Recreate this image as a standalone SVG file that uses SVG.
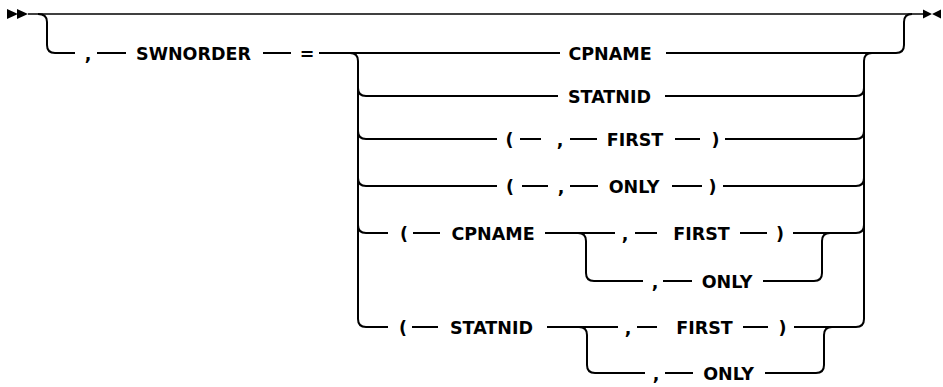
<svg xmlns="http://www.w3.org/2000/svg" width="943" height="387" viewBox="0 0 943 387">
<style>
.bg{fill:#fff}
.ln{fill:none;stroke:#000;stroke-width:2;stroke-linecap:butt}
.main{fill:none;stroke:#000;stroke-width:1.5}
.mk{fill:#000}
text{font-family:"DejaVu Sans","Liberation Sans",sans-serif;font-weight:bold;font-size:17.5px;fill:#000;text-anchor:middle}
</style>
<rect class="bg" width="943" height="387"/>
<g id="connectors">
<path class="main" d="M28,14 H923"/>
<path class="mk" d="M7,9 L18,14 L7,19 Z M17,9 L28,14 L17,19 Z"/>
<path class="mk" d="M923,9.5 L932,14 L923,18.5 Z M941,9.5 L932,14 L941,18.5 Z"/>
<path class="ln" d="M38,14 Q47,14 47,22 V45 Q47,53 55,53 H75 M97,53 H126 M263,53 H291 M319,53 H560 M666,53 H896 Q904,53 904,45 V22 Q904,14 912,14"/>
<path class="ln" d="M350,53 Q358,53 358,61 V319 Q358,327 366,327"/>
<path class="ln" d="M358,88 Q358,96 366,96 M358,131 Q358,139 366,139 M358,178 Q358,186 366,186 M358,225 Q358,233 366,233"/>
<path class="ln" d="M856,327 Q864,327 864,319 V61 Q864,53 872,53"/>
<path class="ln" d="M856,96 Q864,96 864,88 M856,139 Q864,139 864,131 M856,186 Q864,186 864,178 M856,233 Q864,233 864,225"/>
<path class="ln" d="M366,96 H558 M665,96 H856"/>
<path class="ln" d="M366,139 H497 M520,139 H541 M570,139 H597 M675,139 H700 M725,139 H856"/>
<path class="ln" d="M366,186 H497 M522,186 H548 M570,186 H598 M672,186 H702 M723,186 H856"/>
<path class="ln" d="M366,233 H388 M413,233 H440 M545,233 H615 M635,233 H657 M740,233 H767 M793,233 H856"/>
<path class="ln" d="M578,233 Q586,233 586,241 V273 Q586,281 594,281 H643 M663,281 H692 M763,281 H814 Q822,281 822,273 V241 Q822,233 830,233"/>
<path class="ln" d="M366,327 H388 M412,327 H438 M547,327 H618 M637,327 H657 M743,327 H768 M794,327 H856"/>
<path class="ln" d="M579,327 Q587,327 587,335 V365 Q587,373 595,373 H645 M665,373 H693 M765,373 H816 Q824,373 824,365 V335 Q824,327 832,327"/>
</g>
<g id="n-swnorder">
<text x="88" y="59.5">,</text>
<text x="193.5" y="59.5">SWNORDER</text>
<text x="307" y="59.5">=</text>
</g>
<g id="n-cpname"><text x="610" y="59.5">CPNAME</text></g>
<g id="n-statnid"><text x="609.5" y="102.5">STATNID</text></g>
<g id="n-first">
<text x="509.5" y="145.5">(</text><text x="560" y="145.5">,</text><text x="635" y="145.5">FIRST</text><text x="715.5" y="145.5">)</text>
</g>
<g id="n-only">
<text x="510" y="192.5">(</text><text x="561" y="192.5">,</text><text x="634" y="192.5">ONLY</text><text x="712.5" y="192.5">)</text>
</g>
<g id="n-cpname-paren">
<text x="404" y="239.5">(</text><text x="493" y="239.5">CPNAME</text><text x="625" y="239.5">,</text><text x="701.5" y="239.5">FIRST</text><text x="780" y="239.5">)</text>
<text x="655" y="287.5">,</text><text x="727" y="287.5">ONLY</text>
</g>
<g id="n-statnid-paren">
<text x="403" y="333.5">(</text><text x="491.5" y="333.5">STATNID</text><text x="628" y="333.5">,</text><text x="704.5" y="333.5">FIRST</text><text x="782.5" y="333.5">)</text>
<text x="656" y="379.5">,</text><text x="728.5" y="379.5">ONLY</text>
</g>
</svg>
